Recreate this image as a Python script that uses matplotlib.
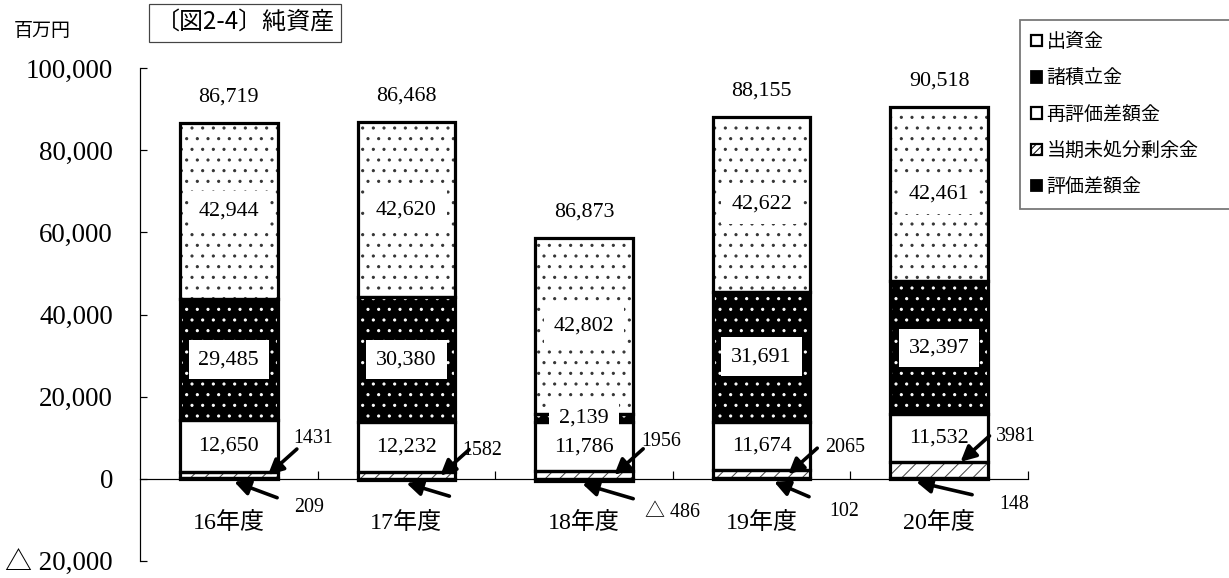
import matplotlib.pyplot as plt
from matplotlib.patches import Patch

DPI = 128
W, H = 1229, 578


def pt(px):
    # pixel size -> points at this dpi
    return px * 72 / DPI


plt.rcParams['font.family'] = ['Liberation Serif', 'Noto Sans CJK JP', 'DejaVu Sans']
plt.rcParams['hatch.linewidth'] = pt(1.0)

years = ['16年度', '17年度', '18年度', '19年度', '20年度']
hyoka = [209, -346, -486, 102, 148]             # 評価差額金
toki = [1431, 1582, 1956, 2065, 3981]           # 当期未処分剰余金
shusshi = [12650, 12232, 11786, 11674, 11532]   # 出資金
sekitate = [29485, 30380, 2139, 31691, 32397]   # 諸積立金
saihyoka = [42944, 42620, 42802, 42622, 42461]  # 再評価差額金
totals = [86719, 86468, 86873, 88155, 90518]
hyoka_shown = [True, False, True, True, True]

yticks = [-20000, 0, 20000, 40000, 60000, 80000, 100000]
ytick_labels = ['△ 20,000', '0', '20,000', '40,000', '60,000', '80,000', '100,000']

fig = plt.figure(figsize=(W / DPI, H / DPI), dpi=DPI)
ax = fig.add_axes([140 / W, 1 - 561 / H, 888 / W, 493 / H])

x = list(range(len(years)))
width = 0.55

series = [
    (hyoka, 'black', 'black', None),
    (toki, 'white', '#444444', '///'),
    (shusshi, 'white', 'black', None),
    (sekitate, 'black', 'white', '..'),
    (saihyoka, 'white', '#333333', '..'),
]

pos = [0] * len(x)
neg = [0] * len(x)
bottoms = []
for vals, fc, hc, hatch in series:
    bot = []
    for i, v in enumerate(vals):
        if v >= 0:
            bot.append(pos[i])
            pos[i] += v
        else:
            bot.append(neg[i])
            neg[i] += v
    bottoms.append(bot)
    ax.bar(x, vals, width, bottom=bot, color=fc, edgecolor=hc, hatch=hatch, lw=0, zorder=2)
    ax.bar(x, vals, width, bottom=bot, fill=False, edgecolor='black', lw=pt(3.2), zorder=3)

# 出資金・諸積立金・再評価差額金 の値
box = dict(boxstyle='square,pad=0.45', fc='white', ec='none')
for k in (2, 3, 4):
    vals = series[k][0]
    for i, v in enumerate(vals):
        ax.text(i, bottoms[k][i] + v / 2, f'{v:,}', ha='center', va='center',
                fontsize=pt(22), bbox=box, zorder=5)

# 合計
for i, t in enumerate(totals):
    ax.annotate(f'{t:,}', xy=(i, pos[i]), xytext=(0, 26), textcoords='offset pixels',
                ha='center', va='center', fontsize=pt(22))

# 当期未処分剰余金・評価差額金 の矢印
arrow = dict(arrowstyle='-|>', lw=pt(3.6), color='black', mutation_scale=pt(32),
             shrinkA=0, shrinkB=0)
up_dx = [0.22, 0.19, 0.17, 0.15, 0.12]
up_lbl = [(45, 37), (42, 25), (47, 33), (57, 27), (55, 25)]
lo_dx = [0.03, 0.0, -0.01, 0.07, -0.13]
lo_tail = [(43, -16), (43, -13), (51, -15), (35, -15), (56, -13)]
lo_lbl = [(75, -26), (75, -26), (90, -29), (70, -30), (98, -23)]
for i in x:
    ty = toki[i] / 2 + max(hyoka[i], 0)
    if i == 4:
        ty = toki[i] + hyoka[i]
    tip = (i + up_dx[i], ty)
    ax.annotate('', xy=tip, xytext=(29, 26), textcoords='offset pixels',
                arrowprops=arrow, zorder=6)
    ax.annotate(str(toki[i]), xy=tip, xytext=up_lbl[i], textcoords='offset pixels',
                ha='center', va='center', fontsize=pt(20))

    tip = (i + lo_dx[i], min(hyoka[i], 0) - 700)
    ax.annotate('', xy=tip, xytext=lo_tail[i], textcoords='offset pixels',
                arrowprops=arrow, zorder=6)
    if hyoka_shown[i]:
        v = hyoka[i]
        s = f'{v}' if v >= 0 else f'△ {-v}'
        ax.annotate(s, xy=tip, xytext=lo_lbl[i], textcoords='offset pixels',
                    ha='center', va='center', fontsize=pt(20))

ax.set_xlim(-0.5, 4.5)
ax.set_ylim(-20000, 100000)
ax.spines['top'].set_visible(False)
ax.spines['right'].set_visible(False)
ax.spines['bottom'].set_position(('data', 0))
ax.spines['left'].set_linewidth(pt(1.2))
ax.spines['bottom'].set_linewidth(pt(1.2))

ax.set_yticks(yticks)
ax.set_yticklabels(ytick_labels, fontsize=pt(27))
ax.tick_params(axis='y', direction='in', length=pt(7), width=pt(1.2), pad=pt(27))

ax.set_xticks(x)
ax.set_xticklabels(years, fontsize=pt(24))
ax.set_xticks([0.5, 1.5, 2.5, 3.5, 4.5], minor=True)
ax.tick_params(axis='x', which='major', length=0, pad=pt(33))
ax.tick_params(axis='x', which='minor', direction='in', length=pt(8), width=pt(1.2))

fig.text(14 / W, 1 - 31 / H, '百万円', fontsize=pt(19), va='center',
         family=['Noto Sans CJK JP'])
fig.text(245 / W, 1 - 23 / H, '〔図2-4〕純資産', fontsize=pt(24), ha='center', va='center',
         family=['Noto Sans CJK JP'],
         bbox=dict(boxstyle='square,pad=0.25', fc='white', ec='#444444', lw=pt(1.2)))

handles = [
    Patch(facecolor='white', edgecolor='black', lw=pt(2.2)),
    Patch(facecolor='black', edgecolor='black'),
    Patch(facecolor='white', edgecolor='black', lw=pt(2.2)),
    Patch(facecolor='white', edgecolor='black', hatch='//////', lw=pt(2.2)),
    Patch(facecolor='black', edgecolor='black'),
]
labels = ['出資金', '諸積立金', '再評価差額金', '当期未処分剰余金', '評価差額金']
fig.legend(handles, labels, loc='upper left', mode='expand',
           bbox_to_anchor=(1020 / W, 1 - 209 / H, 215 / W, 189 / H),
           borderaxespad=0,
           prop={'family': ['Noto Sans CJK JP'], 'size': pt(19)},
           handlelength=0.55, handleheight=0.55, handletextpad=0.25,
           labelspacing=0.8, borderpad=0.6, fancybox=False,
           edgecolor='#777777', framealpha=1)

fig.savefig('out.png', dpi=DPI)
